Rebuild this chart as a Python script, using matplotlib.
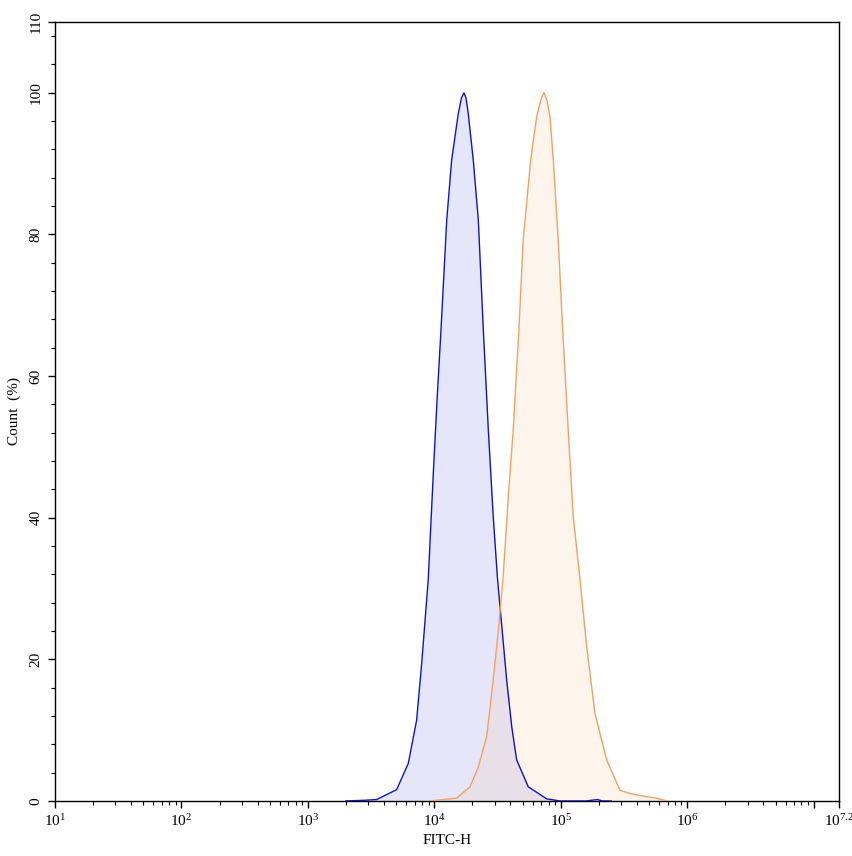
import numpy as np
import matplotlib
matplotlib.use("Agg")
import matplotlib.pyplot as plt
from matplotlib.ticker import FixedLocator, MultipleLocator

# ---------------------------------------------------------------- data
# x values are log10(FITC-H), y values are Count (%)
blue_log = [3.30, 3.45, 3.544, 3.702, 3.794, 3.860, 3.900, 3.952, 3.992, 4.023, 4.053,
            4.098, 4.137, 4.189, 4.215, 4.234, 4.250, 4.268, 4.308, 4.348, 4.387, 4.427,
            4.466, 4.500, 4.572, 4.612, 4.651, 4.743, 4.888, 4.994, 5.20,
            5.29, 5.33, 5.40]
blue_count = [0.0, 0.1, 0.2, 1.6, 5.3, 11.4, 19.4, 31.3, 46.3, 57.1, 66.6,
              82.0, 90.5, 97.0, 99.3, 100.0, 99.3, 97.1, 90.5, 82.0, 66.7, 52.4,
              40.1, 31.3, 17.1, 10.5, 5.8, 2.0, 0.3, 0.0, 0.0,
              0.2, 0.0, 0.0]

orange_log = [3.966, 4.177, 4.282, 4.348, 4.414, 4.466, 4.506, 4.543, 4.585, 4.624,
              4.669, 4.703, 4.762, 4.809, 4.845, 4.867, 4.890, 4.915, 4.941, 4.980,
              5.015, 5.059, 5.099, 5.152, 5.205, 5.270, 5.363, 5.468, 5.560, 5.679,
              5.758, 5.838]
orange_count = [0.0, 0.4, 2.0, 4.8, 9.1, 17.1, 24.1, 31.3, 43.0, 52.4,
                66.6, 79.2, 90.5, 96.6, 99.2, 100.0, 99.0, 96.6, 90.5, 79.2,
                66.6, 52.4, 40.1, 31.3, 21.8, 12.4, 5.8, 1.5, 1.0, 0.6,
                0.4, 0.0]

x_major_exp = [1, 2, 3, 4, 5, 6, 7, 7.2]
x_major_labels = ["1", "2", "3", "4", "5", "6", "", "7.2"]
y_major = [0, 20, 40, 60, 80, 100, 110]

# ---------------------------------------------------------------- style
plt.rcParams["font.family"] = ["Liberation Serif", "DejaVu Serif"]
plt.rcParams["mathtext.fontset"] = "custom"
plt.rcParams["mathtext.rm"] = "Liberation Serif"
plt.rcParams["mathtext.it"] = "Liberation Serif:italic"

BLUE_LINE = "#1212c4"
BLUE_FILL = "#e6e6fb"
ORANGE_LINE = "#f0a263"
ORANGE_FILL = "#f5c08a"

fig = plt.figure(figsize=(8.53, 8.56), dpi=100)
ax = fig.add_axes([0.0645, 0.0643, 0.919, 0.910])

bx = np.power(10.0, blue_log)
ox = np.power(10.0, orange_log)

ax.fill_between(bx, 0, blue_count, color=BLUE_FILL, lw=0, zorder=1)
ax.fill_between(ox, 0, orange_count, color=ORANGE_FILL, alpha=0.16, lw=0, zorder=2)
ax.plot(bx, blue_count, color=BLUE_LINE, lw=1.0, zorder=3)
ax.plot(ox, orange_count, color=ORANGE_LINE, lw=1.0, zorder=3)

ax.set_xscale("log")
ax.set_xlim(10 ** 1, 10 ** 7.2)
ax.set_ylim(0, 110)

# x ticks (10^7 has a tick but no label)
majors = [10.0 ** e for e in x_major_exp]
ax.xaxis.set_major_locator(FixedLocator(majors))
ax.set_xticklabels([r"$\mathregular{10^{%s}}$" % s if s else "" for s in x_major_labels])
minors = [m * 10.0 ** d for d in range(1, 7) for m in range(2, 10)]
ax.xaxis.set_minor_locator(FixedLocator(minors))
ax.xaxis.set_minor_formatter(plt.NullFormatter())

# y ticks
ax.yaxis.set_major_locator(FixedLocator(y_major))
ax.set_yticklabels([str(v) for v in y_major], rotation=90, va="center")
ax.yaxis.set_minor_locator(MultipleLocator(4))

ax.tick_params(which="major", length=5, width=1.0, labelsize=11, direction="out")
ax.tick_params(which="minor", length=3, width=0.8, direction="out")
ax.tick_params(axis="y", pad=4)

for sp in ax.spines.values():
    sp.set_linewidth(1.0)

ax.set_xlabel("FITC-H", fontsize=11, labelpad=4)
ax.set_ylabel("Count  (%)", fontsize=11, labelpad=6)

fig.savefig("out.png", dpi=100)
